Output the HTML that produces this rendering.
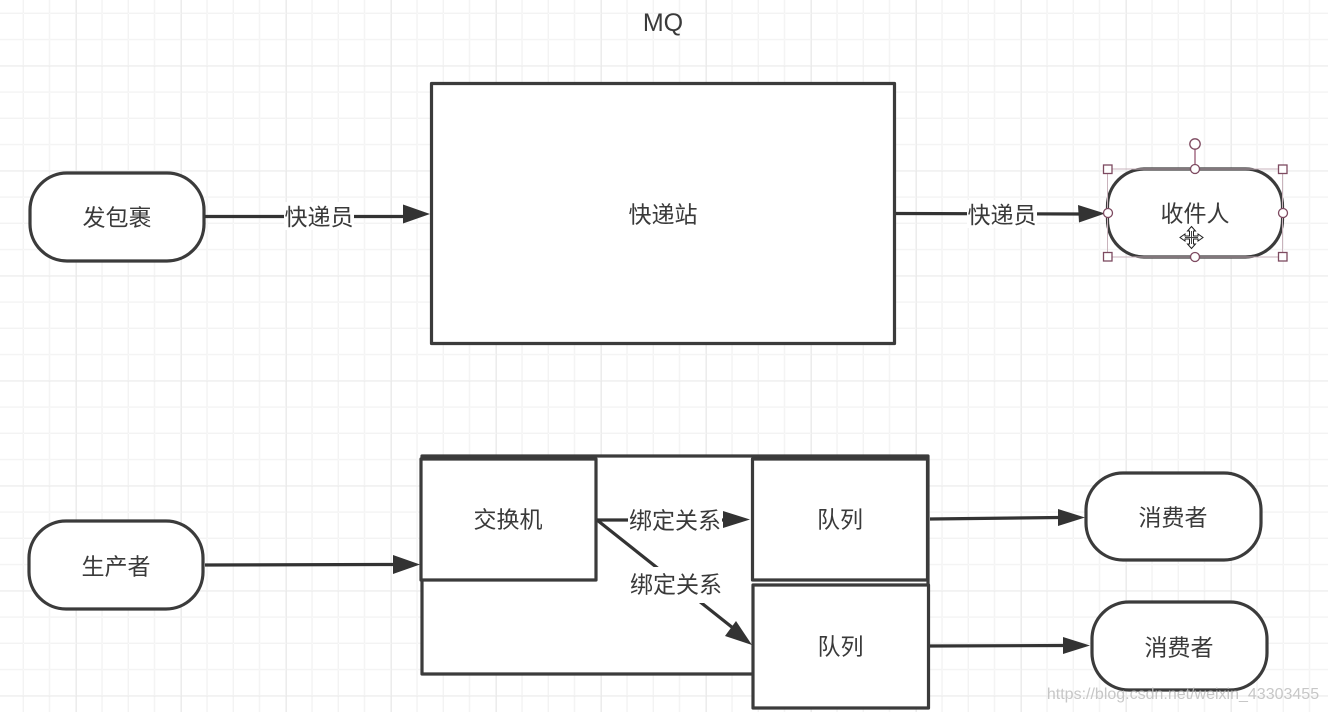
<!DOCTYPE html>
<html>
<head>
<meta charset="utf-8">
<style>
html,body{margin:0;padding:0;background:#fff;width:1328px;height:712px;overflow:hidden}
svg{display:block}
text{font-family:"Liberation Sans","Noto Sans CJK SC",sans-serif;fill:#3a3a3a;font-size:23px;text-anchor:middle}
.s{fill:#fff;stroke:#3b3b3b;stroke-width:3.2;stroke-linejoin:round}
.l{stroke:#333;stroke-width:3.2;fill:none}
.a{fill:#333}
.h{fill:#fff;stroke:#7d4a60;stroke-width:1.3}
.bg{fill:#fff}
</style>
</head>
<body>
<svg width="1328" height="712" viewBox="0 0 1328 712" xmlns="http://www.w3.org/2000/svg">
<defs>
<pattern id="minor" width="26.25" height="26.25" patternUnits="userSpaceOnUse" x="-2.25" y="-12.25">
<path d="M26.25 0V26.25M0 26.25H26.25" stroke="#f3f3f3" stroke-width="1.4" fill="none" transform="translate(-.7 -.7)"/>
</pattern>
<pattern id="major" width="105" height="105" patternUnits="userSpaceOnUse" x="-28" y="-38.5">
<path d="M105 0V105M0 105H105" stroke="#e8e8e8" stroke-width="1.4" fill="none"/>
</pattern>
</defs>
<rect width="1328" height="712" fill="#fff"/>
<rect width="1328" height="712" fill="url(#minor)"/>
<rect width="1328" height="712" fill="url(#major)"/>

<text x="663" y="31" style="font-size:25px">MQ</text>

<!-- top row -->
<rect class="s" x="30" y="173" width="174" height="88" rx="37"/>
<text x="117" y="225.500">发包裹</text>
<path class="l" d="M205 216.500H404"/>
<rect class="bg" x="284" y="202" width="70" height="28"/>
<text x="319" y="225">快递员</text>
<path class="a" d="M403 204.500L430 214L403 223.500Z"/>

<rect class="s" x="431.500" y="83.500" width="463" height="260"/>
<text x="663" y="222.500">快递站</text>

<path class="l" d="M896 213.500L1080 214"/>
<rect class="bg" x="967" y="200" width="70" height="28"/>
<text x="1002" y="223">快递员</text>
<path class="a" d="M1078 205L1105 213.500L1079 222.500Z"/>

<rect class="s" x="1107.500" y="169" width="175" height="88" rx="37"/>
<text x="1195" y="221.500">收件人</text>
<!-- selection -->
<rect x="1107.500" y="169" width="175" height="88" fill="none" stroke="#c9b3bc" stroke-width="1"/>
<path d="M1195 149V169" stroke="#8d4a66" stroke-width="1.200"/>
<circle class="h" cx="1195" cy="144" r="5.200"/>
<rect class="h" x="1103.500" y="165" width="8.500" height="8.500"/>
<rect class="h" x="1278.500" y="165" width="8.500" height="8.500"/>
<rect class="h" x="1103.500" y="252.500" width="8.500" height="8.500"/>
<rect class="h" x="1278.500" y="252.500" width="8.500" height="8.500"/>
<circle class="h" cx="1195" cy="169" r="4.500"/>
<circle class="h" cx="1108" cy="213" r="4.500"/>
<circle class="h" cx="1283" cy="213" r="4.500"/>
<circle class="h" cx="1195" cy="257" r="4.500"/>
<!-- move cursor -->
<path d="M1191.500 226.500L1195.500 231H1193.500V236H1198V234L1203 237.500L1198 241V239H1193.500V244H1195.500L1191.500 248.500L1187.500 244H1189.500V239H1185V241L1180 237.500L1185 234V236H1189.500V231H1187.500Z" fill="#fff" stroke="#222" stroke-width="1"/>
<path d="M1191.500 231V244M1185 237.500H1198" stroke="#444" stroke-width="1"/>

<!-- bottom: container -->
<path class="s" d="M422 456H928V674H422Z"/>
<rect class="s" x="421" y="459" width="175" height="121"/>
<text x="508" y="527.500">交换机</text>

<rect class="s" x="752.500" y="459" width="175" height="121"/>
<text x="840" y="527.500">队列</text>
<rect class="s" x="753" y="585" width="175.500" height="123"/>
<text x="840.500" y="654.500">队列</text>

<rect class="s" x="29" y="521" width="174" height="88" rx="37"/>
<text x="116" y="574.500">生产者</text>
<path class="l" d="M205 565L395 564.500"/>
<path class="a" d="M393 555L420 564.500L393 574Z"/>

<!-- binding lines -->
<path class="l" d="M597 520H727"/>
<path class="l" d="M597 520L733 628"/>
<rect class="bg" x="628" y="506" width="94" height="28"/>
<rect class="bg" x="628" y="567" width="94" height="36"/>
<text x="675" y="528.500">绑定关系</text>
<text x="676" y="592.500">绑定关系</text>
<path class="a" d="M723 511L750 519.500L723 528Z"/>
<path class="a" d="M736 621L752 645L725 636Z"/>

<!-- consumers -->
<path class="l" d="M930 519L1060 517.500"/>
<path class="a" d="M1058 509L1085 517.500L1058 526Z"/>
<rect class="s" x="1086" y="473" width="175" height="87" rx="37"/>
<text x="1173" y="525.500">消费者</text>

<path class="l" d="M930 646L1066 645.500"/>
<path class="a" d="M1063 637L1090 645.500L1063 654Z"/>
<rect class="s" x="1092" y="602" width="175" height="88" rx="37"/>
<text x="1179" y="655.500">消费者</text>

<text x="1183" y="699" style="font-size:16px;fill:#bdbdbd;fill-opacity:.85">https://blog.csdn.net/weixin_43303455</text>
</svg>
</body>
</html>
